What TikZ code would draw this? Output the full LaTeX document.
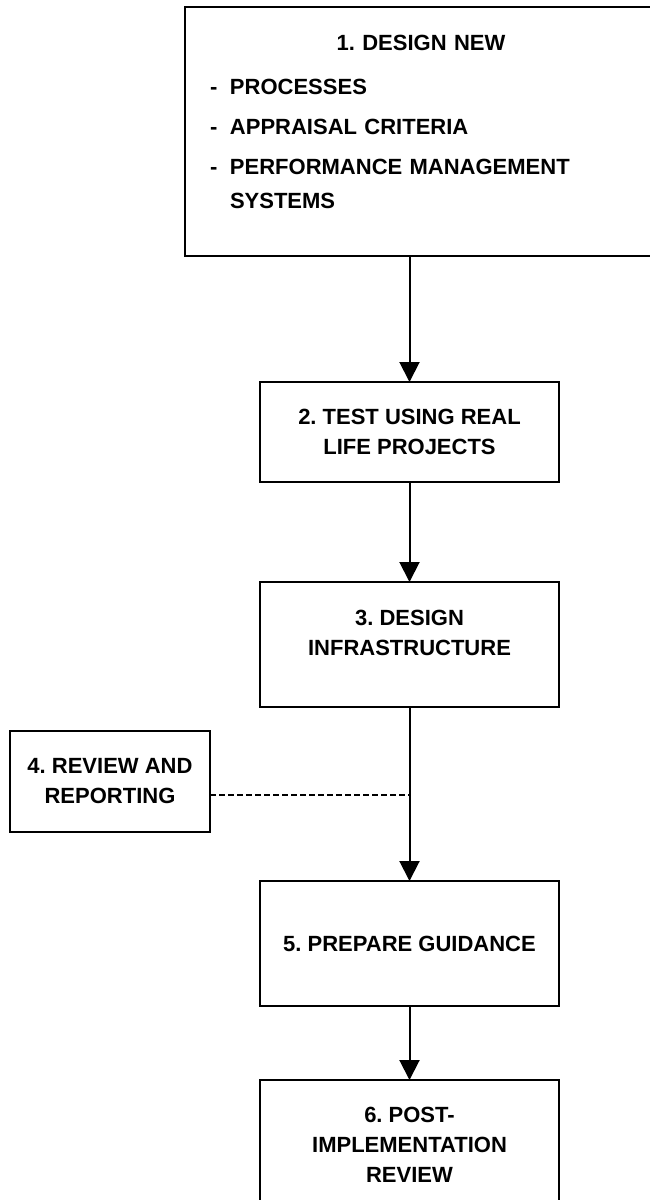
\documentclass[tikz,border=0pt]{standalone}
\usepackage{fontspec}
\setmainfont{Liberation Sans}
\usetikzlibrary{arrows.meta, positioning}
\frenchspacing
\tikzstyle{stage} = [rectangle, draw=black, line width=2pt, inner sep=0pt, outer sep=0pt, minimum width=299pt, align=center, font=\fontsize{22}{30}\selectfont\bfseries]
\tikzstyle{arrow} = [line width=2pt, -{Triangle[width=20pt, length=20pt]}]
\tikzstyle{link} = [line width=2pt, dash pattern=on 6pt off 3pt]
\newcommand{\dashitem}[1]{\par\vspace{6pt}\noindent\makebox[20pt][l]{-}\parbox[t]{400pt}{\raggedright #1}}

\begin{document}
\begin{tikzpicture}[x=1pt, y=1pt]
\useasboundingbox (0,0) rectangle (649,-1200);

% Design stage
\node (design-new) [stage, anchor=north west, minimum width=472pt, minimum height=249pt, text width=422pt, align=left, text depth=177pt, font=\fontsize{22}{34}\selectfont\bfseries] at (185,-7) {{\centering\noindent 1. DESIGN NEW\par}\vspace{4pt}\dashitem{PROCESSES}\dashitem{APPRAISAL CRITERIA}\dashitem{PERFORMANCE MANAGEMENT\\SYSTEMS}};

\node (test-projects) [stage, anchor=north, minimum height=100pt] at (409.5,-382) {2. TEST USING REAL\\LIFE PROJECTS};

\node (design-infra) [stage, below=100pt of test-projects, minimum height=125pt, text depth=23pt] {3. DESIGN\\INFRASTRUCTURE};

% Side stage
\node (review-report) [stage, anchor=north west, minimum width=200pt, minimum height=101pt] at (10,-731) {4. REVIEW AND\\REPORTING};

\node (prepare-guide) [stage, below=174pt of design-infra, minimum height=125pt] {5. PREPARE GUIDANCE};

\node (post-review) [stage, below=74pt of prepare-guide, minimum height=130pt] {6. POST-\\IMPLEMENTATION\\REVIEW};

% Arrows
\draw [arrow] (design-new.south -| test-projects.north) -- (test-projects.north);
\draw [arrow] (test-projects) -- (design-infra);
\draw [arrow] (design-infra) -- (prepare-guide);
\draw [arrow] (prepare-guide) -- (post-review);
\coordinate (review-join) at ([yshift=-13pt]review-report.east -| design-infra.south);
\draw [link] ([yshift=-13pt]review-report.east) -- (review-join);

\end{tikzpicture}
\end{document}
